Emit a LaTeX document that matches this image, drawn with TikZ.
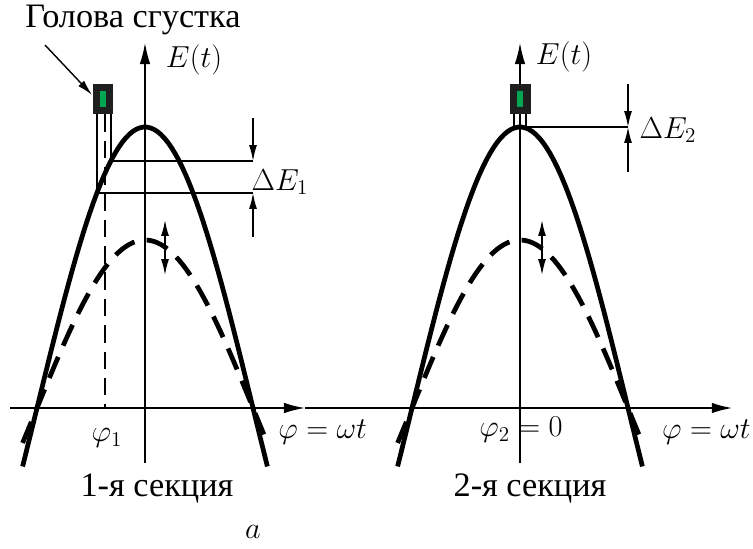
\documentclass[tikz,border=0pt]{standalone}
\usepackage[no-math]{fontspec}
\setmainfont{Liberation Serif}
\usetikzlibrary{arrows.meta,positioning}

\definecolor{coregreen}{RGB}{0,166,81}
\tikzset{
	lbl/.style={font=\fontsize{17.28}{20}\selectfont, inner sep=0pt},
	txt/.style={font=\fontsize{19.5}{22}\selectfont, inner sep=0pt},
	curve/.style={line width=2.7pt, line cap=butt},
	dcurve/.style={line width=2.7pt, dash pattern={on 13pt off 7pt}},
	fine/.style={line width=0.8pt},
	axisline/.style={line width=1pt, -{Latex[length=12pt,width=6pt]}},
	dimarrow/.style={line width=0.8pt, -{Latex[length=9pt,width=4.5pt]}},
	bunch/.style={fill=black!88, minimum width=0.42cm, minimum height=0.6cm, inner sep=0pt},
	bunchcore/.style={fill=coregreen, minimum width=0.13cm, minimum height=0.32cm, inner sep=0pt}
}

\begin{document}
\begin{tikzpicture}[x=0.02cm, y=-0.02cm]
	\useasboundingbox (0,0) rectangle (753,548);
	% axes
	\coordinate (O1) at (145,408);
	\coordinate (O2) at (520,408);
	\coordinate (X0) at (10,408);
	\coordinate (X1) at (305,408);
	\coordinate (X2) at (733,408);
	\coordinate (Y1b) at (145,463);
	\coordinate (Y1t) at (145,43);
	\coordinate (Y2b) at (520,463);
	\coordinate (Y2t) at (520,43);
	\draw[axisline] (X0) -- (X1);
	\draw[axisline, line width=1.5pt] (X1) -- (X2);
	\draw[axisline, line width=0.8pt] (Y1b) -- (Y1t);
	\draw[axisline, line width=0.8pt] (Y2b) -- (Y2t);
	\node[lbl] (E1) at (194,60) {$E(t)$};
	\node[lbl] (E2) at (564,57) {$E(t)$};
	% field curves
	\draw[curve] plot[domain=-102:102, samples=70] ({145+\x*108/90}, {408-281*cos(\x)});
	\draw[dcurve] plot[domain=-102:102, samples=70] ({145+\x*108/90}, {408-168*cos(\x)});
	\draw[curve] plot[domain=-102:102, samples=70] ({520+\x*108/90}, {408-281*cos(\x)});
	\draw[dcurve] plot[domain=-102:102, samples=70] ({520+\x*108/90}, {408-168*cos(\x)});
	% section 1
	\node[bunch] (B1) at (103,99) {};
	\node[bunchcore] (G1) at (B1.center) {};
	\coordinate (H1l) at (97,193);
	\coordinate (H1r) at (111,161);
	\coordinate (P1) at (105,408);
	\draw[fine] (B1.south -| H1l) -- (H1l);
	\draw[fine] (B1.south -| H1r) -- (H1r);
	\draw[fine, dash pattern={on 10pt off 5pt}] (B1.south -| P1) -- (P1);
	\coordinate (D1t) at (253,161);
	\coordinate (D1b) at (253,193);
	\coordinate (D1a) at (253,118);
	\coordinate (D1c) at (253,237);
	\draw[fine] (H1r) -- (D1t);
	\draw[fine] (H1l) -- (D1b);
	\draw[dimarrow] (D1a) -- (D1t);
	\draw[dimarrow] (D1c) -- (D1b);
	\node[lbl] (dE1) at (280,182) {$\Delta E_1$};
	\node[txt] (head) at (133,20) {Голова сгустка};
	\coordinate (ptr) at (45,45);
	\draw[dimarrow] (ptr) -- (B1.west |- 0,95);
	\coordinate (V1a) at (165,220);
	\coordinate (V1b) at (165,275);
	\draw[fine, {Latex[length=9pt,width=4.5pt]}-{Latex[length=9pt,width=4.5pt]}] (V1a) -- (V1b);
	\node[lbl] (phi1) at (107,438) {$\varphi_1$};
	\node[lbl, anchor=west] (wt1) at (278,432) {$\varphi=\omega t$};
	\node[txt] (sec1) at (157,488) {1-я секция};
	% section 2
	\node[bunch] (B2) at (520,99) {};
	\node[bunchcore] (G2) at (B2.center) {};
	\coordinate (H2l) at (514,127);
	\coordinate (H2r) at (526,127);
	\draw[fine] (B2.south -| H2l) -- (H2l);
	\draw[fine] (B2.south -| H2r) -- (H2r);
	\coordinate (D2) at (628,127);
	\coordinate (D2a) at (628,84);
	\coordinate (D2c) at (628,172);
	\draw[line width=1.2pt] (O2 |- D2) -- (D2);
	\draw[dimarrow] (D2a) -- (D2);
	\draw[dimarrow] (D2c) -- (D2);
	\node[lbl] (dE2) at (668,130) {$\Delta E_2$};
	\coordinate (V2a) at (542,220);
	\coordinate (V2b) at (542,275);
	\draw[fine, {Latex[length=9pt,width=4.5pt]}-{Latex[length=9pt,width=4.5pt]}] (V2a) -- (V2b);
	\node[lbl] (phi2) at (521,430) {$\varphi_2=0$};
	\node[lbl, anchor=east] (wt2) at (751,432) {$\varphi=\omega t$};
	\node[txt] (sec2) at (530,488) {2-я секция};
	\node[lbl] (cap) at (253,532) {$a$};
\end{tikzpicture}
\end{document}
